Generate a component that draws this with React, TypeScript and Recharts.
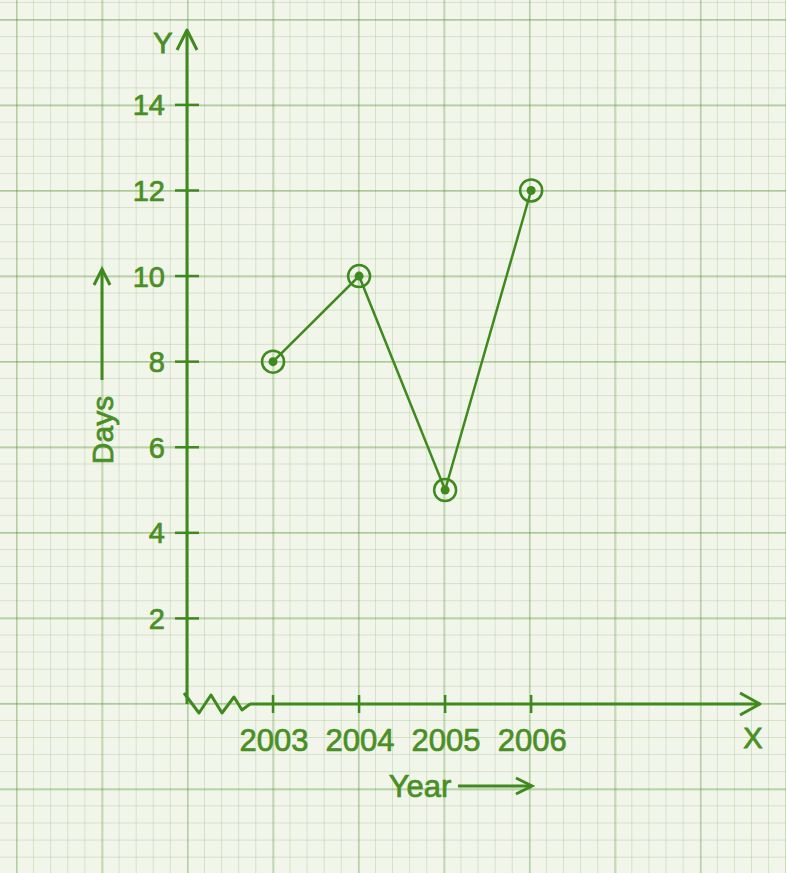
import React from 'react';
import { LineChart, Line, XAxis, YAxis, ReferenceDot, ReferenceLine } from 'recharts';

const years = [2003, 2004, 2005, 2006];
const days = [8, 10, 5, 12];
const yTicks = [2, 4, 6, 8, 10, 12, 14];
const xDomain = [2002, 2008.66];
const yDomain = [0, 15.75];

const data = years.map((y, i) => ({ year: y, days: days[i] }));

const GREEN = '#3f8a1e';
const TEXT = '#4a8f26';
const FONT = '"Liberation Sans", Arial, Helvetica, sans-serif';

const YTick = (props: any) => {
  const { x, y, payload } = props;
  return (
    <g>
      <line x1={x - 12} x2={x + 12} y1={y} y2={y} stroke={GREEN} strokeWidth={2.5} />
      <text x={x - 22} y={y} dy="0.36em" textAnchor="end" fill={TEXT} stroke={TEXT} strokeWidth={0.7} fontSize={29} fontFamily={FONT}>
        {payload.value}
      </text>
    </g>
  );
};

const XTick = (props: any) => {
  const { x, y, payload } = props;
  return (
    <g>
      <line x1={x} x2={x} y1={y - 9} y2={y + 9} stroke={GREEN} strokeWidth={2.5} />
      <text x={x + 1} y={y + 36} dy="0.36em" textAnchor="middle" fill={TEXT} stroke={TEXT} strokeWidth={0.7} fontSize={31} fontFamily={FONT}>
        {payload.value}
      </text>
    </g>
  );
};

const Dot = (props: any) => {
  const { cx, cy } = props;
  return (
    <g>
      <circle cx={cx} cy={cy} r={11} fill="none" stroke={GREEN} strokeWidth={2.5} />
      <circle cx={cx} cy={cy} r={4.5} fill={GREEN} />
    </g>
  );
};

const XArrow = (props: any) => {
  const { cx, cy } = props;
  return (
    <path d={`M${cx - 20},${cy - 11} L${cx},${cy} L${cx - 20},${cy + 11}`} fill="none" stroke={GREEN} strokeWidth={3} strokeLinejoin="round" />
  );
};

const YArrow = (props: any) => {
  const { cx, cy } = props;
  return (
    <path d={`M${cx - 10},${cy + 20} L${cx},${cy} L${cx + 10},${cy + 20}`} fill="none" stroke={GREEN} strokeWidth={3} strokeLinejoin="round" />
  );
};

const ZigZag = (props: any) => {
  const { cx, cy } = props;
  const pts = [
    [-3, -11], [12, 9], [24, -9], [35, 9], [47, -7], [55, 6], [63, 0],
  ];
  const d = pts.map((p, i) => `${i === 0 ? 'M' : 'L'}${cx + p[0]},${cy + p[1]}`).join(' ');
  return <path d={d} fill="none" stroke={GREEN} strokeWidth={3} strokeLinejoin="round" />;
};

export default function App() {
  return (
    <div
      style={{
        position: 'fixed',
        left: 0,
        top: 0,
        width: 786,
        height: 873,
        backgroundColor: '#f1f5ea',
        backgroundImage:
          'linear-gradient(to right, rgba(70,135,35,0.22) 2px, transparent 2px),' +
          'linear-gradient(to bottom, rgba(70,135,35,0.28) 2px, transparent 2px),' +
          'linear-gradient(to right, rgba(90,150,60,0.2) 1px, transparent 1px),' +
          'linear-gradient(to bottom, rgba(90,150,60,0.2) 1px, transparent 1px)',
        backgroundSize: '85.5px 85.5px, 85.5px 85.5px, 17.1px 17.1px, 17.1px 17.1px',
        backgroundPosition: '16px 19px, 16px 19px, 16px 2px, 16px 2px',
      }}
    >
      <LineChart
        width={786}
        height={873}
        data={data}
        margin={{ top: 30, right: 26, bottom: 109, left: 127 }}
      >
        <XAxis
          dataKey="year"
          type="number"
          domain={xDomain}
          ticks={years}
          allowDataOverflow
          axisLine={false}
          tickLine={false}
          tickSize={0}
          tickMargin={0}
          height={60}
          tick={<XTick />}
        />
        <YAxis
          type="number"
          domain={yDomain}
          ticks={yTicks}
          allowDataOverflow
          axisLine={{ stroke: GREEN, strokeWidth: 3 }}
          tickLine={false}
          tickSize={0}
          tickMargin={0}
          width={60}
          tick={<YTick />}
        />
        <ReferenceLine
          segment={[{ x: 2002.73, y: 0 }, { x: 2008.66, y: 0 }]}
          stroke={GREEN}
          strokeWidth={3}
          ifOverflow="visible"
        />
        <ReferenceDot x={2002} y={0} r={0} ifOverflow="visible" shape={<ZigZag />} />
        <ReferenceDot x={2008.66} y={0} r={0} ifOverflow="visible" shape={<XArrow />} />
        <ReferenceDot x={2002} y={15.75} r={0} ifOverflow="visible" shape={<YArrow />} />
        <Line
          type="linear"
          dataKey="days"
          stroke={GREEN}
          strokeWidth={2.5}
          dot={<Dot />}
          activeDot={false}
          isAnimationActive={false}
        />
      </LineChart>
      <svg
        width={786}
        height={873}
        style={{ position: 'absolute', left: 0, top: 0, pointerEvents: 'none' }}
      >
        <text x={163} y={43} dy="0.36em" textAnchor="middle" fill={TEXT} stroke={TEXT} strokeWidth={0.8} fontSize={29} fontFamily={FONT}>Y</text>
        <text x={753} y={738} dy="0.36em" textAnchor="middle" fill={TEXT} stroke={TEXT} strokeWidth={0.8} fontSize={29} fontFamily={FONT}>X</text>
        <text
          x={102}
          y={430}
          dy="0.36em"
          textAnchor="middle"
          fill={TEXT}
          stroke={TEXT}
          strokeWidth={0.7}
          fontSize={30}
          fontFamily={FONT}
          transform="rotate(-90 102 430)"
        >
          Days
        </text>
        <line x1={102} y1={380} x2={102} y2={269} stroke={GREEN} strokeWidth={3} />
        <path d="M94,285 L102,269 L110,285" fill="none" stroke={GREEN} strokeWidth={3} />
        <text x={420} y={786} dy="0.36em" textAnchor="middle" fill={TEXT} stroke={TEXT} strokeWidth={0.7} fontSize={31} fontFamily={FONT}>Year</text>
        <line x1={458} y1={786} x2={532} y2={786} stroke={GREEN} strokeWidth={3} />
        <path d="M516,778 L532,786 L516,794" fill="none" stroke={GREEN} strokeWidth={3} />
      </svg>
    </div>
  );
}
